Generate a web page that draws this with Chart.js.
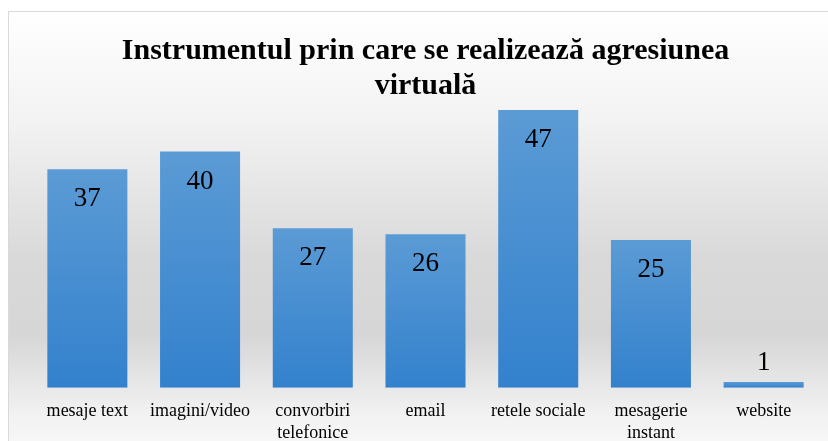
<!DOCTYPE html>
<html>
<head>
<meta charset="utf-8">
<script src="https://cdn.jsdelivr.net/npm/chart.js@4"></script>
<style>
    body { margin: 0; background: #ffffff; }
    #wrap { position: relative; width: 828px; height: 441px; overflow: hidden; }
    /* chart frame with the Excel style grey gradient */
    #frame {
        position: absolute; left: 8px; top: 11px; width: 840px; height: 450px;
        border: 1px solid #d9d9d9; box-sizing: border-box;
        background: linear-gradient(to bottom, #ffffff 0%, #f2f2f2 25%, #d9d9d9 55%, #d6d6d6 72%, #f2f2f2 90%, #fafafa 100%);
    }
    #chart_instrument { position: absolute; left: 0; top: 0; }
</style>
</head>
<body>
<div id="wrap">
    <div id="frame"></div>
    <canvas id="chart_instrument" width="828" height="441"></canvas>
</div>
<script>
// data
const categories = ['mesaje text', 'imagini/video', ['convorbiri', 'telefonice'], 'email', 'retele sociale', ['mesagerie', 'instant'], 'website'];
const values = [37, 40, 27, 26, 47, 25, 1];
const chartTitle = ['Instrumentul prin care se realizează agresiunea', 'virtuală'];

const serif = '"Liberation Serif", "Times New Roman", serif';

// each bar gets its own light->dark gradient
function barGradient(context) {
    const chart = context.chart;
    const yScale = chart.scales.y;
    if (!chart.chartArea || !yScale) {
        return '#4a8fd3';
    }
    let top = yScale.getPixelForValue(context.raw);
    let bottom = yScale.getPixelForValue(0);
    if (!isFinite(top) || !isFinite(bottom) || top === bottom) {
        return '#4a8fd3';
    }
    let g = chart.ctx.createLinearGradient(0, top, 0, bottom);
    g.addColorStop(0, '#5b9bd5');
    g.addColorStop(1, '#3381cd');
    return g;
}

// values written inside the top of each bar (above it if the bar is too short)
const valueLabels = {
    id: 'valueLabels',
    afterDatasetsDraw(chart) {
        let ctx = chart.ctx;
        let meta = chart.getDatasetMeta(0);
        ctx.save();
        ctx.font = '27px ' + serif;
        ctx.fillStyle = '#000000';
        ctx.textAlign = 'center';
        ctx.textBaseline = 'middle';
        meta.data.forEach(function (bar, i) {
            let h = bar.base - bar.y;
            let y = h > 45 ? bar.y + 30 : bar.y - 19;
            ctx.fillText(String(values[i]), bar.x, y);
        });
        ctx.restore();
    }
};

let ctx = document.getElementById('chart_instrument').getContext('2d');
const myBarChart = new Chart(ctx, {
    type: 'bar',
    data: {
        labels: categories,
        datasets: [{
            label: '',
            data: values,
            backgroundColor: barGradient,
            borderWidth: 0,
            categoryPercentage: 1,
            barPercentage: 0.71
        }]
    },
    options: {
        responsive: false,
        animation: false,
        layout: {
            padding: { left: 31, right: 8, top: 34, bottom: -8 }
        },
        plugins: {
            legend: { display: false },
            tooltip: { enabled: false },
            title: {
                display: true,
                text: chartTitle,
                color: '#000000',
                font: { family: serif, size: 30, weight: 'bold', lineHeight: 1.17 },
                padding: { top: 0, bottom: 0 }
            }
        },
        scales: {
            x: {
                grid: { display: false },
                border: { display: false },
                ticks: {
                    color: '#000000',
                    font: { family: serif, size: 18, lineHeight: 1.2 },
                    padding: 5,
                    maxRotation: 0,
                    autoSkip: false
                }
            },
            y: {
                display: false,
                min: 0,
                max: 48
            }
        }
    },
    plugins: [valueLabels]
});
</script>
</body>
</html>
